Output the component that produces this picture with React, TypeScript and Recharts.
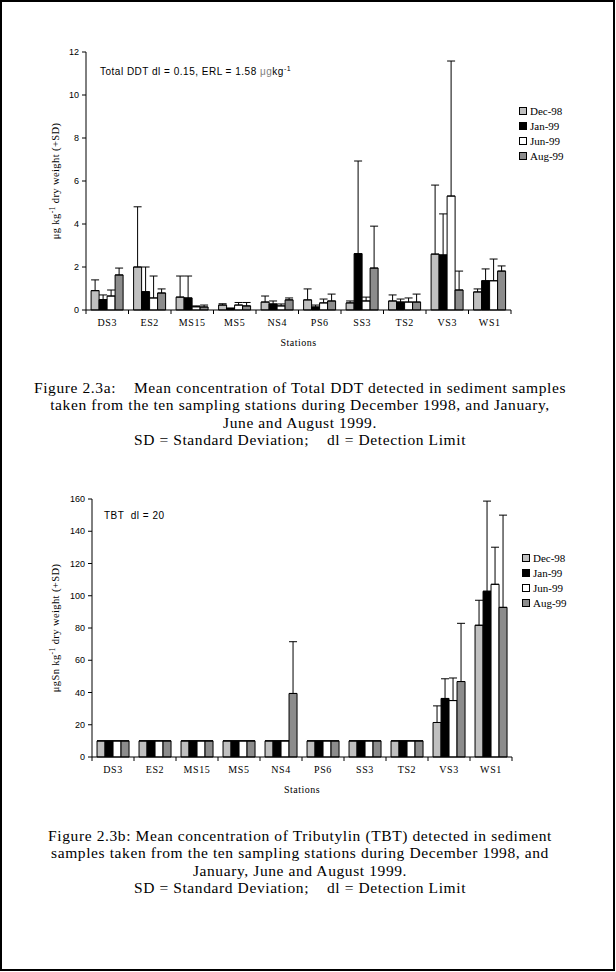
import React from "react";
import { BarChart, Bar, XAxis, YAxis, ErrorBar, Legend } from "recharts";

const stations = ["DS3", "ES2", "MS15", "MS5", "NS4", "PS6", "SS3", "TS2", "VS3", "WS1"];
const seriesNames = ["Dec-98", "Jan-99", "Jun-99", "Aug-99"];
const seriesColors = ["#c0c0c0", "#000000", "#ffffff", "#8c8c8c"];

// Total DDT (ug/kg) means and +SD
const ddtDec = [0.9, 2.0, 0.6, 0.23, 0.37, 0.47, 0.33, 0.42, 2.6, 0.84];
const ddtDecSd = [0.5, 2.8, 0.98, 0.06, 0.28, 0.51, 0.09, 0.28, 3.21, 0.14];
const ddtJan = [0.48, 0.85, 0.56, 0.08, 0.28, 0.14, 2.62, 0.37, 2.56, 1.36];
const ddtJanSd = [0.22, 1.15, 1.02, 0, 0.14, 0.09, 4.31, 0.14, 1.91, 0.55];
const ddtJun = [0.65, 0.56, 0.15, 0.23, 0.19, 0.33, 0.42, 0.37, 5.3, 1.36];
const ddtJunSd = [0.28, 1.02, 0.04, 0.12, 0.09, 0.18, 0.18, 0.19, 6.28, 1.01];
const ddtAug = [1.63, 0.79, 0.14, 0.19, 0.47, 0.42, 1.95, 0.37, 0.93, 1.81];
const ddtAugSd = [0.32, 0.19, 0.09, 0.16, 0.09, 0.32, 1.95, 0.37, 0.88, 0.24];
const ddtTicks = [0, 2, 4, 6, 8, 10, 12];

// TBT (ugSn/kg) means and +SD
const tbtDec = [10, 10, 10, 10, 10, 10, 10, 10, 21.4, 81.7];
const tbtDecSd = [0, 0, 0, 0, 0, 0, 0, 0, 10.3, 15.5];
const tbtJan = [10, 10, 10, 10, 10, 10, 10, 10, 36.3, 102.8];
const tbtJanSd = [0, 0, 0, 0, 0, 0, 0, 0, 12.2, 55.9];
const tbtJun = [10, 10, 10, 10, 10, 10, 10, 10, 35, 107.1];
const tbtJunSd = [0, 0, 0, 0, 0, 0, 0, 0, 14, 23];
const tbtAug = [10, 10, 10, 10, 39.4, 10, 10, 10, 46.8, 92.8];
const tbtAugSd = [0, 0, 0, 0, 32.1, 0, 0, 0, 36.1, 57.2];
const tbtTicks = [0, 20, 40, 60, 80, 100, 120, 140, 160];

const SERIF = "'Liberation Serif', 'DejaVu Serif', serif";
const SANS = "'Liberation Sans', Arial, sans-serif";

const buildRows = (vals: number[][], sds: number[][]) =>
  stations.map((s, i) => {
    const row: any = { station: s };
    seriesNames.forEach((n, k) => {
      row[n] = vals[k][i];
      row[n + "_sd"] = [0, sds[k][i]];
    });
    return row;
  });

const ddtRows = buildRows([ddtDec, ddtJan, ddtJun, ddtAug], [ddtDecSd, ddtJanSd, ddtJunSd, ddtAugSd]);
const tbtRows = buildRows([tbtDec, tbtJan, tbtJun, tbtAug], [tbtDecSd, tbtJanSd, tbtJunSd, tbtAugSd]);

const StationTick = (props: any) => {
  const { x, y, payload, index, visibleTicksCount } = props;
  const half = payload.offset ?? 21;
  const axisY = y - 4;
  return (
    <g>
      <line x1={x - half} x2={x - half} y1={axisY} y2={axisY + 4} stroke="#000" />
      {index === visibleTicksCount - 1 && (
        <line x1={x + half} x2={x + half} y1={axisY} y2={axisY + 4} stroke="#000" />
      )}
      <text x={x} y={y + 12} textAnchor="middle" fontFamily={SERIF} fontSize={10} letterSpacing={0.6} fill="#000">
        {payload.value}
      </text>
    </g>
  );
};

const YLabel = ({ viewBox, pre }: any) => {
  const cx = 59;
  const cy = viewBox.y + viewBox.height / 2;
  return (
    <text
      x={cx}
      y={cy}
      transform={`rotate(-90 ${cx} ${cy})`}
      textAnchor="middle"
      fontFamily={SERIF}
      fontSize={10.5}
      letterSpacing={0.4}
      fill="#000"
    >
      {pre} kg
      <tspan dy={-4} fontSize={7.5}>-1</tspan>
      <tspan dy={4}> dry weight (+SD)</tspan>
    </text>
  );
};

const LegendBox = ({ payload }: any) => {
  const items = [...(payload || [])].sort(
    (a: any, b: any) => seriesNames.indexOf(a.value) - seriesNames.indexOf(b.value)
  );
  return (
    <div style={{ fontFamily: SERIF, fontSize: 11, color: "#000" }}>
      {items.map((p: any) => (
        <div key={p.value} style={{ display: "flex", alignItems: "center", height: 15 }}>
          <span
            style={{
              display: "inline-block",
              width: 6,
              height: 6,
              border: "1px solid #000",
              background: p.color,
              marginRight: 3,
            }}
          />
          {p.value}
        </div>
      ))}
    </div>
  );
};

interface PanelProps {
  rows: any[];
  ticks: number[];
  max: number;
  top: number;
  left: number;
  right: number;
  yPre: string;
  legendLeft: number;
}

const Panel = ({ rows, ticks, max, top, left, right, yPre, legendLeft }: PanelProps) => (
  <div style={{ position: "absolute", left: 0, top }}>
    <BarChart
      width={616}
      height={360}
      data={rows}
      margin={{ top: 52, right, left, bottom: 10 }}
      barCategoryGap="12%"
      barGap={0}
    >
      <XAxis
        dataKey="station"
        height={40}
        axisLine={{ stroke: "#000" }}
        tickLine={false}
        tickSize={4}
        tickMargin={0}
        interval={0}
        tick={<StationTick />}
        label={{ value: "Stations", position: "insideBottom", offset: 4, fontFamily: SERIF, fontSize: 10, fill: "#000", letterSpacing: 0.5 }}
      />
      <XAxis
        xAxisId="top"
        dataKey="station"
        orientation="top"
        height={0}
        tick={false}
        tickLine={false}
        axisLine={{ stroke: "#808080" }}
      />
      <YAxis
        width={40}
        domain={[0, max]}
        ticks={ticks}
        interval={0}
        axisLine={{ stroke: "#000" }}
        tickLine={{ stroke: "#000" }}
        tickSize={4}
        tickMargin={3}
        tick={{ fontFamily: SANS, fontSize: 9, fill: "#000" }}
        label={<YLabel pre={yPre} />}
      />
      <YAxis
        yAxisId="right"
        orientation="right"
        width={0}
        type="number"
        domain={[0, 1]}
        tick={false}
        tickLine={false}
        axisLine={{ stroke: "#808080" }}
      />
      <Legend
        layout="vertical"
        align="center"
        verticalAlign="middle"
        content={<LegendBox />}
        wrapperStyle={{ left: legendLeft, top: 103, width: 80, height: "auto" }}
      />
      {seriesNames.map((n, k) => (
        <Bar
          key={n}
          dataKey={n}
          name={n}
          fill={seriesColors[k]}
          stroke="#000"
          strokeWidth={1}
          isAnimationActive={false}
        >
          <ErrorBar dataKey={n + "_sd"} width={4} stroke="#000" strokeWidth={1} direction="y" />
        </Bar>
      ))}
    </BarChart>
  </div>
);

const captionStyle: React.CSSProperties = {
  position: "absolute",
  left: 0,
  width: 600,
  textAlign: "center",
  fontFamily: SERIF,
  fontSize: 15.5,
  letterSpacing: 0.6,
  lineHeight: "17.3px",
  whiteSpace: "pre",
  color: "#000",
};

export default function App() {
  return (
    <div
      style={{
        position: "absolute",
        left: 0,
        top: 0,
        width: 616,
        height: 972,
        background: "#fff",
        overflow: "hidden",
      }}
    >
      <div
        style={{
          position: "absolute",
          left: 0,
          top: 0,
          width: 615,
          height: 971,
          border: "2px solid #000",
          boxSizing: "border-box",
        }}
      />
      <Panel rows={ddtRows} ticks={ddtTicks} max={12} top={0} left={46} right={105} yPre="μg" legendLeft={519} />
      <div style={{ position: "absolute", left: 100, top: 65, fontFamily: SANS, fontSize: 10, letterSpacing: 0.5, whiteSpace: "pre" }}>
        Total DDT dl = 0.15, ERL = 1.58 <span style={{ color: "#808080" }}>μg</span>kg
        <sup style={{ fontSize: 7 }}>-1</sup>
      </div>
      <div style={{ ...captionStyle, top: 379 }}>
        {"Figure 2.3a:    Mean concentration of Total DDT detected in sediment samples\ntaken from the ten sampling stations during December 1998, and January,\nJune and August 1999.\nSD = Standard Deviation;    dl = Detection Limit"}
      </div>
      <Panel rows={tbtRows} ticks={tbtTicks} max={160} top={447} left={52} right={104} yPre="μgSn" legendLeft={522} />
      <div style={{ position: "absolute", left: 104, top: 510, fontFamily: SANS, fontSize: 10, letterSpacing: 0.5, whiteSpace: "pre" }}>
        {"TBT  dl = 20"}
      </div>
      <div style={{ ...captionStyle, top: 827 }}>
        {"Figure 2.3b: Mean concentration of Tributylin (TBT) detected in sediment\nsamples taken from the ten sampling stations during December 1998, and\nJanuary, June and August 1999.\nSD = Standard Deviation;    dl = Detection Limit"}
      </div>
    </div>
  );
}
